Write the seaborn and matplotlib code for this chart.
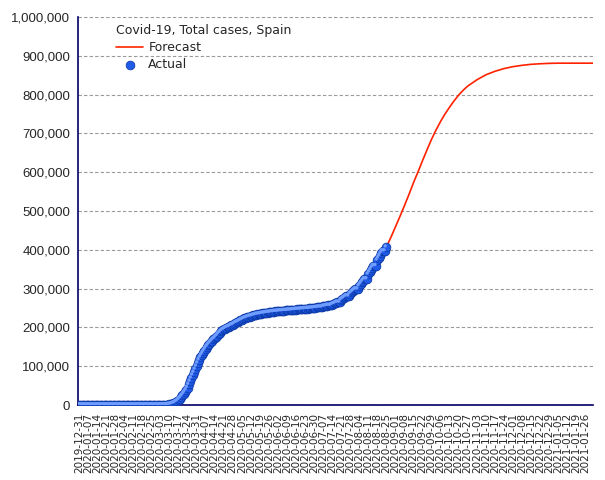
import pandas as pd
import matplotlib.pyplot as plt
import matplotlib.ticker as mticker
from matplotlib.transforms import offset_copy
import seaborn as sns

# Daily cumulative cases, 2019-12-31 .. 2020-08-25
actual_start = "2019-12-31"
actual_cases = (
    [0] * 32
    + [1] * 8 + [2] * 16
    + [6, 13, 15, 32, 45]
    + [84, 120, 165, 222, 259, 400, 500, 673, 1073, 1700]
    + [2300, 3000, 4300, 5800, 7800, 10000, 13000]
    + [16500, 20000, 24500, 29000, 33500, 39000, 45000]
    + [53000, 61000, 69000, 77000, 84000, 92000, 100000]
    + [108000, 116000, 123000, 129000, 134000, 139500, 145000]
    + [150000, 154500, 158500, 162000, 165500, 169000, 172000]
    + [175500, 179000, 183000, 186500, 189500, 192500, 195000]
    + [197000, 199000, 200500, 202000, 203500, 205500, 207000]
    + [209000, 211000, 213000, 214500, 216000, 218000, 220000]
    + [221500, 223000, 224500, 226000, 227000, 228000, 229000]
    + [230000, 231000, 232000, 233000, 233700, 234300, 235000]
    + [235600, 236200, 236800, 237300, 237800, 238300, 238800]
    + [239300, 239800, 240200, 240600, 241000, 241400, 241800]
    + [242100, 242400, 242700, 243000, 243300, 243600, 243900]
    + [244200, 244500, 244800, 245100, 245400, 245700, 246000]
    + [246300, 246600, 246900, 247200, 247500, 247800, 248100]
    + [248400, 248700, 249000, 249300, 249600, 249900, 250300]
    + [250800, 251300, 251800, 252300, 252300, 252300, 254000]
    + [254700, 255400, 256100, 256800, 256800, 256800, 259000]
    + [260500, 262000, 263500, 265000, 265000, 265000, 271000]
    + [273500, 276000, 278500, 281000, 281000, 281000, 287000]
    + [290000, 293000, 296000, 299000, 299000, 299000, 307000]
    + [311500, 316000, 320500, 325000, 325000, 325000, 337000]
    + [342500, 348000, 353500, 359000, 359000, 359000, 373000]
    + [379000, 385000, 391000, 397000, 397000, 397000, 407000]
)

# Forecast curve
forecast_dates = ["2020-08-25", "2020-08-29", "2020-09-01", "2020-09-05", "2020-09-08",
                  "2020-09-12", "2020-09-15", "2020-09-19", "2020-09-22", "2020-09-26",
                  "2020-09-29", "2020-10-02", "2020-10-06", "2020-10-09", "2020-10-13",
                  "2020-10-16", "2020-10-20", "2020-10-24", "2020-10-27", "2020-11-03",
                  "2020-11-10", "2020-11-17", "2020-11-24", "2020-12-01", "2020-12-08",
                  "2020-12-15", "2020-12-22", "2020-12-29", "2021-01-05", "2021-01-12",
                  "2021-01-19", "2021-01-26", "2021-02-01"]
forecast_cases = [407000, 436000, 459000, 490000, 514000,
                  547000, 573000, 605000, 630000, 662000,
                  685000, 706000, 731000, 748000, 768000,
                  782000, 799000, 813000, 822000, 838000,
                  851000, 860000, 867000, 872000, 875500,
                  878000, 879500, 880500, 881000, 881000,
                  881000, 881000, 881000]

tick_dates = pd.date_range("2019-12-31", "2021-01-26", freq="7D")
tick_labels = [d.strftime("%Y-%m-%d") for d in tick_dates]

actual = pd.DataFrame({
    "date": pd.date_range(actual_start, periods=len(actual_cases), freq="D"),
    "cases": actual_cases,
})
forecast = pd.DataFrame({"date": pd.to_datetime(forecast_dates), "cases": forecast_cases})

sns.set_style("white")
plt.rcParams["font.family"] = ["DejaVu Sans"]

navy = "#000066"
fig = plt.figure(figsize=(6.05, 4.8), dpi=100)
ax = fig.add_axes([78 / 605, 1 - 405 / 480, (593 - 78) / 605, (405 - 17) / 480])

sns.lineplot(data=forecast, x="date", y="cases", color="#ff2200", linewidth=1.2,
             label="Forecast", ax=ax, zorder=2)
sns.scatterplot(data=actual, x="date", y="cases", color="#1f5ae8", edgecolor="#0b36a0",
                linewidth=0.5, s=40, label="Actual", ax=ax, zorder=3)
# small highlight to give the markers a sphere look
sns.scatterplot(data=actual, x="date", y="cases", color="#6f9cff", edgecolor="none",
                s=6, ax=ax, zorder=4, legend=False,
                transform=offset_copy(ax.transData, fig=fig, x=-1.2, y=1.2, units="dots"))

ax.set_xlim(pd.Timestamp("2019-12-31") - pd.Timedelta(hours=20), pd.Timestamp("2021-02-01"))
ax.set_ylim(0, 1_000_000)
ax.set_xticks(tick_dates)
ax.set_xticklabels(tick_labels, rotation=90, fontsize=7.5)
ax.yaxis.set_major_locator(mticker.MultipleLocator(100_000))
ax.yaxis.set_major_formatter(mticker.FuncFormatter(lambda v, p: f"{v:,.0f}"))
for lab in ax.get_yticklabels():
    lab.set_family("Liberation Sans")
ax.tick_params(axis="y", labelsize=9.5, length=3.6, width=1, color=navy, direction="out", pad=2)
ax.tick_params(axis="x", length=3.6, width=1, color=navy, direction="out", pad=2)
ax.set_xlabel("")
ax.set_ylabel("")

for side in ["top", "right"]:
    ax.spines[side].set_visible(False)
for side in ["left", "bottom"]:
    ax.spines[side].set_color(navy)
    ax.spines[side].set_linewidth(1.2)

ax.yaxis.grid(True, color="#999999", linestyle=(0, (3, 2)), linewidth=0.8)
ax.set_axisbelow(True)

handles, labels = ax.get_legend_handles_labels()
leg = ax.legend(handles[:2], labels[:2], title="Covid-19, Total cases, Spain", loc="upper left",
                bbox_to_anchor=(107 / 605, 1 - 15 / 480), bbox_transform=fig.transFigure,
                frameon=False, fontsize=9, title_fontsize=9, alignment="left",
                handlelength=2.2, handletextpad=0.4, borderpad=0.2, labelspacing=0.35)

fig.savefig("out.png", dpi=100)
plt.close(fig)
